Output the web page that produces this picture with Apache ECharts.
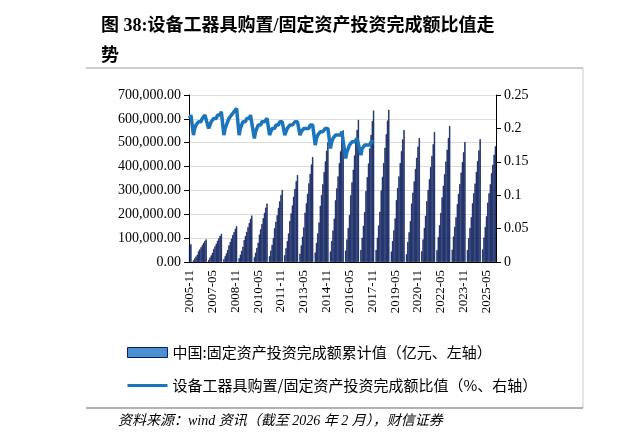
<!DOCTYPE html><html><head><meta charset="utf-8"><script src="https://cdn.jsdelivr.net/npm/echarts@6/dist/echarts.min.js"></script>
<style>body{margin:0;background:#fff}#c{width:623px;height:448px}</style></head><body><div id="c"></div><script>
// cumulative FAI (thousand 亿), per year Jan..Dec (Jan not published)
const fai2005=[null,null,null,null,null,null,null,null,null,null,68,75];
const faiYears=[
[null,7.6,15,23,31,45,53,62,71,80,88,95],
[null,9,19,28,39,55,66,77,89,99,110,118],
[null,12,24,36,50,70,84,98,113,126,140,150],
[null,16,31,47,64,92,109,127,146,164,181,195],
[null,20,39,59,81,115,137,159,184,206,228,245],
[null,24,48,72,100,142,169,196,227,254,281,302],
[null,29,58,88,120,172,204,237,274,307,339,365],
[null,35,70,106,145,207,246,286,330,370,409,440],
[null,40,80,120,166,236,281,326,377,422,467,502],
[null,44,88,132,182,259,309,359,414,464,513,552],
[null,48,95,143,197,280,334,387,447,501,554,596],
[null,51,102,152,210,298,356,413,476,533,591,635],
[null,51,102,153,211,300,357,415,479,536,593,638],
[null,44,88,133,183,260,310,359,415,465,514,553],
[null,33,84,125,172,245,291,338,390,437,484,520],
[null,45,95,143,194,255,302,347,398,445,494,545],
[null,50,105,154,206,271,320,368,421,471,520,570],
[null,52,107,148,188,243,286,327,375,419,460,503],
[null,50,100,143,188,246,288,329,378,423,468,515],
[null,53,103,147,192,249,288,326,372,408,450,485]];
const ratio2005=[null,null,null,null,null,null,null,null,null,null,.215,.22];
const ratioYears=[
[null,.19,.20,.205,.205,.21,.21,.21,.215,.215,.22,.22],
[null,.20,.205,.21,.21,.215,.215,.215,.22,.22,.22,.225],
[null,.19,.20,.205,.21,.215,.215,.22,.22,.225,.225,.23],
[null,.19,.20,.205,.21,.21,.21,.215,.215,.215,.22,.22],
[null,.185,.195,.20,.205,.205,.205,.21,.21,.21,.21,.215],
[null,.19,.195,.20,.20,.20,.205,.205,.205,.21,.21,.21],
[null,.19,.195,.20,.20,.205,.205,.205,.205,.21,.21,.21],
[null,.19,.195,.195,.20,.20,.20,.20,.20,.205,.205,.205],
[null,.175,.185,.19,.19,.195,.195,.195,.195,.20,.20,.20],
[null,.17,.18,.185,.185,.19,.19,.19,.19,.19,.195,.195],
[null,.155,.165,.17,.175,.175,.18,.18,.18,.18,.185,.185],
[null,.16,.17,.17,.175,.175,.175,.175,.175,.18,.18,.18]];
const cats=[],bars=[],ratio=[];
for(let m=10;m<12;m++){cats.push('2005-'+String(m+1).padStart(2,'0'));bars.push(fai2005[m]==null?null:fai2005[m]*1000);ratio.push(ratio2005[m]);}
faiYears.forEach((ys,i)=>{ys.forEach((v,m)=>{cats.push((2006+i)+'-'+String(m+1).padStart(2,'0'));bars.push(v==null?null:v*1000);const r=ratioYears[i];ratio.push(r?r[m]:null);});});
const ch=echarts.init(document.getElementById('c'));
const ff='"Liberation Serif","Times New Roman",serif';
ch.setOption({animation:false,
title:{text:'图 38:设备工器具购置/固定资产投资完成额比值走\n势',left:96,top:6,textStyle:{fontSize:18,fontWeight:'bold',color:'#000',lineHeight:30,fontFamily:'"Liberation Serif","Noto Sans CJK SC"'}},
graphic:[{type:'line',shape:{x1:86,y1:68,x2:583,y2:68},style:{stroke:'#999',lineWidth:1}},
{type:'line',shape:{x1:583,y1:68,x2:583,y2:408},style:{stroke:'#ccc',lineWidth:1}},
{type:'line',shape:{x1:86,y1:408,x2:583,y2:408},style:{stroke:'#666',lineWidth:1}},
{type:'text',left:118,top:414,style:{text:'资料来源：wind 资讯（截至 2026 年 2 月），财信证券',fontSize:14,fontStyle:'italic',fill:'#000',fontFamily:'"Liberation Serif","Noto Sans CJK SC"'}}],
legend:{orient:'vertical',left:122,top:340,itemGap:18,itemWidth:40,itemHeight:10,textStyle:{fontSize:15,color:'#000',fontFamily:'"Noto Sans CJK SC"'},
data:[{name:'中国:固定资产投资完成额累计值（亿元、左轴）',icon:'rect',itemStyle:{color:'#4a90d0',borderColor:'#0b1f5c',borderWidth:1}},{name:'设备工器具购置/固定资产投资完成额比值（%、右轴）',icon:'path://M0,4 L40,4 L40,7 L0,7 Z',itemStyle:{color:'#1b75bc'}}]},
grid:{left:189,right:127,top:95,bottom:186},
xAxis:{type:'category',data:cats,boundaryGap:true,axisLine:{lineStyle:{color:'#000'}},axisTick:{interval:17,alignWithLabel:true,lineStyle:{color:'#000'}},
axisLabel:{interval:17,rotate:90,fontSize:13,color:'#000',fontFamily:ff}},
yAxis:[{type:'value',min:0,max:700000,interval:100000,axisLine:{show:true,lineStyle:{color:'#000'}},axisTick:{show:true},splitLine:{lineStyle:{color:'#ddd'}},
axisLabel:{fontSize:14,color:'#000',fontFamily:ff,formatter:v=>v.toLocaleString('en-US',{minimumFractionDigits:2,maximumFractionDigits:2})}},
{type:'value',min:0,max:0.25,interval:0.05,axisLine:{show:true,lineStyle:{color:'#000'}},axisTick:{show:true},splitLine:{show:false},
axisLabel:{fontSize:14,color:'#000',fontFamily:ff,formatter:v=>v===0?'0':String(+v.toFixed(2))}}],
series:[{name:'中国:固定资产投资完成额累计值（亿元、左轴）',type:'bar',data:bars,barCategoryGap:'0%',itemStyle:{color:'#0b1f5c',borderColor:'#0b1f5c',borderWidth:0.6}},
{name:'设备工器具购置/固定资产投资完成额比值（%、右轴）',type:'line',yAxisIndex:1,data:ratio,connectNulls:true,showSymbol:false,lineStyle:{color:'#1b75bc',width:3.5},itemStyle:{color:'#1b75bc'}}]});
</script></body></html>
